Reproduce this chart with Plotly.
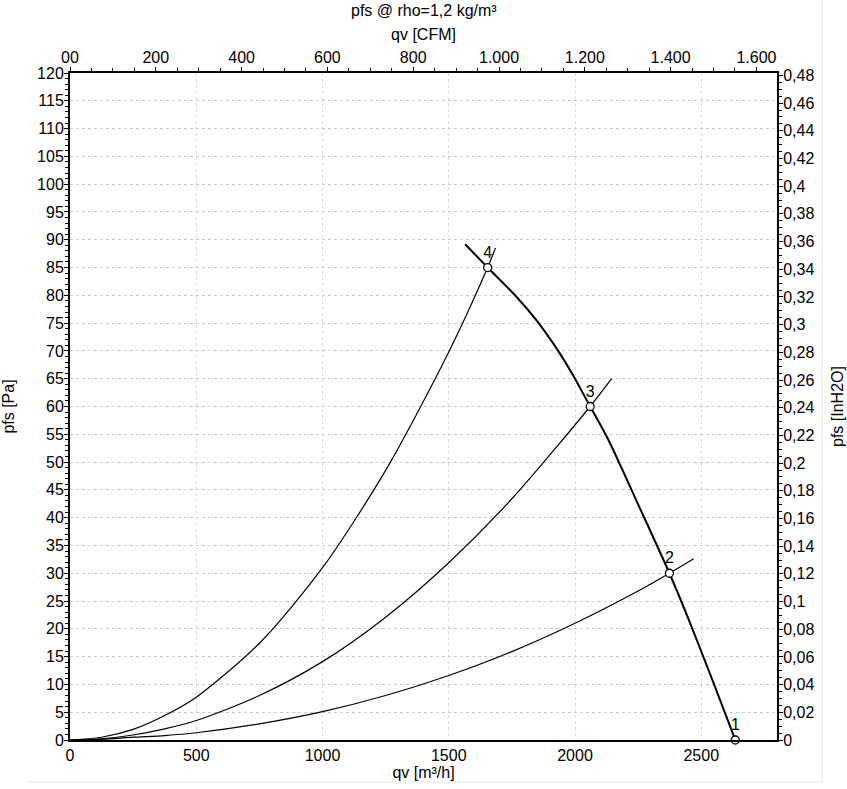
import plotly.graph_objects as go

# ---- data ----
fan_q = [1565, 1654, 1767, 1846, 1925, 1990, 2060, 2130, 2254, 2374, 2450, 2544, 2635]
fan_p = [89.2, 85.0, 79.8, 75.6, 70.6, 65.8, 60.0, 54.2, 42.0, 30.0, 21.7, 10.8, 0.0]

sys4_q = [0, 125, 250, 375, 500, 750, 1000, 1250, 1500, 1654, 1685]
sys4_p = [0, 0.5, 1.9, 4.4, 7.7, 17.4, 31.0, 48.5, 69.8, 85.0, 88.5]

sys3_q = [0, 125, 250, 375, 500, 750, 1000, 1250, 1500, 1750, 2060, 2145]
sys3_p = [0, 0.22, 0.9, 2.0, 3.5, 8.0, 14.1, 22.1, 31.9, 43.4, 60.0, 65.0]

sys2_q = [0, 125, 250, 375, 500, 750, 1000, 1250, 1500, 1750, 2000, 2250, 2374, 2470]
sys2_p = [0, 0.12, 0.5, 0.8, 1.3, 2.9, 5.1, 8.0, 11.6, 15.9, 21.0, 26.8, 30.0, 32.6]

op_labels = ["1", "2", "3", "4"]
op_q = [2635, 2374, 2060, 1654]
op_p = [0.0, 30.0, 60.0, 85.0]

cfm_ticks = [0, 200, 400, 600, 800, 1000, 1200, 1400, 1600]
cfm_text = ["00", "200", "400", "600", "800", "1.000", "1.200", "1.400", "1.600"]
inh2o_ticks = [i * 0.02 for i in range(25)]
inh2o_text = ["0", "0,02", "0,04", "0,06", "0,08", "0,1", "0,12", "0,14", "0,16", "0,18",
              "0,2", "0,22", "0,24", "0,26", "0,28", "0,3", "0,32", "0,34", "0,36", "0,38",
              "0,4", "0,42", "0,44", "0,46", "0,48"]

Q_MAX = 2800
P_MAX = 120
M3H_PER_CFM = 1.69901
PA_PER_INH2O = 249.089

FONT = "Liberation Sans, Arial, sans-serif"
fs = 16

fig = go.Figure()
for q, p in [(sys4_q, sys4_p), (sys3_q, sys3_p), (sys2_q, sys2_p)]:
    fig.add_trace(go.Scatter(x=q, y=p, mode="lines",
                             line=dict(color="black", width=1.2, shape="spline", smoothing=0.8),
                             showlegend=False, hoverinfo="skip"))
fig.add_trace(go.Scatter(x=fan_q, y=fan_p, mode="lines",
                         line=dict(color="black", width=2, shape="spline", smoothing=0.8),
                         showlegend=False, hoverinfo="skip"))
fig.add_trace(go.Scatter(x=op_q, y=op_p, mode="markers+text", text=op_labels,
                         textposition="top center",
                         textfont=dict(family=FONT, size=fs, color="black"),
                         marker=dict(size=8, color="white", line=dict(color="black", width=1.3)),
                         showlegend=False, cliponaxis=False))
# secondary axes carrier
fig.add_trace(go.Scatter(x=[None], y=[None], xaxis="x2", yaxis="y2", showlegend=False,
                         mode="lines", hoverinfo="skip"))

tickfont = dict(family=FONT, size=fs, color="black")
fig.update_layout(
    width=847, height=789,
    margin=dict(l=70, r=70, t=73, b=49),
    paper_bgcolor="white", plot_bgcolor="white",
    font=dict(family=FONT, size=fs, color="black"),
    xaxis=dict(range=[0, Q_MAX], tickmode="linear", tick0=0, dtick=500, automargin=False,
               showgrid=True, gridcolor="#dcdcdc", griddash="dot", gridwidth=1,
               showline=True, linecolor="black", linewidth=2, ticks="", zeroline=False,
               tickfont=tickfont,
               title=dict(text="qv [m³/h]", font=tickfont, standoff=2)),
    yaxis=dict(range=[0, P_MAX], tickmode="linear", tick0=0, dtick=5, automargin=False,
               showgrid=True, gridcolor="#c8c8c8", griddash="dot", gridwidth=1,
               showline=True, linecolor="black", linewidth=2, zeroline=False,
               ticks="outside", ticklen=4, tickcolor="black", tickwidth=1,
               ticklabelstandoff=-3,
               minor=dict(ticks="outside", ticklen=3, dtick=1, tick0=0, tickcolor="black", showgrid=False),
               tickfont=tickfont,
               title=dict(text="pfs [Pa]", font=tickfont, standoff=22)),
    xaxis2=dict(overlaying="x", side="top", range=[0, Q_MAX / M3H_PER_CFM], automargin=False,
                tickmode="array", tickvals=cfm_ticks, ticktext=cfm_text,
                showgrid=False, zeroline=False,
                showline=True, linecolor="black", linewidth=2,
                ticks="outside", ticklen=4, tickcolor="black", tickwidth=1,
                ticklabelstandoff=-2,
                minor=dict(ticks="outside", ticklen=3, tickmode="array",
                           tickvals=[v for v in range(0, 1650, 50) if v % 200 != 0],
                           tickcolor="black", showgrid=False),
                tickfont=tickfont,
                title=dict(text="qv [CFM]", font=tickfont, standoff=4)),
    yaxis2=dict(overlaying="y", side="right", range=[0, P_MAX / PA_PER_INH2O], automargin=False,
                tickmode="array", tickvals=inh2o_ticks, ticktext=inh2o_text,
                showgrid=False, zeroline=False,
                showline=True, linecolor="black", linewidth=2,
                ticks="outside", ticklen=4, tickcolor="black", tickwidth=1,
                ticklabelstandoff=-3,
                minor=dict(ticks="outside", ticklen=3, tickmode="array",
                           tickvals=[i * 0.005 for i in range(97) if i % 4 != 0],
                           tickcolor="black", showgrid=False),
                tickfont=tickfont,
                title=dict(text="pfs [InH2O]", font=tickfont, standoff=18)),
    annotations=[dict(text="pfs @ rho=1,2 kg/m³", xref="paper", yref="paper",
                      x=0.5, y=1.0, yshift=63, showarrow=False, font=tickfont,
                      xanchor="center", yanchor="middle")],
    shapes=[
        dict(type="line", xref="paper", yref="paper", x0=(822 - 70) / 707, x1=(822 - 70) / 707,
             y0=-0.063, y1=1.12, line=dict(color="#e6e6e6", width=1)),
        dict(type="line", xref="paper", yref="paper", x0=-0.06, x1=(822 - 70) / 707,
             y0=-0.063, y1=-0.063, line=dict(color="#e6e6e6", width=1)),
    ],
)

fig.write_html("out.html", config={"displayModeBar": False},
               post_script="document.body.style.margin='0';document.body.style.overflow='hidden';")
